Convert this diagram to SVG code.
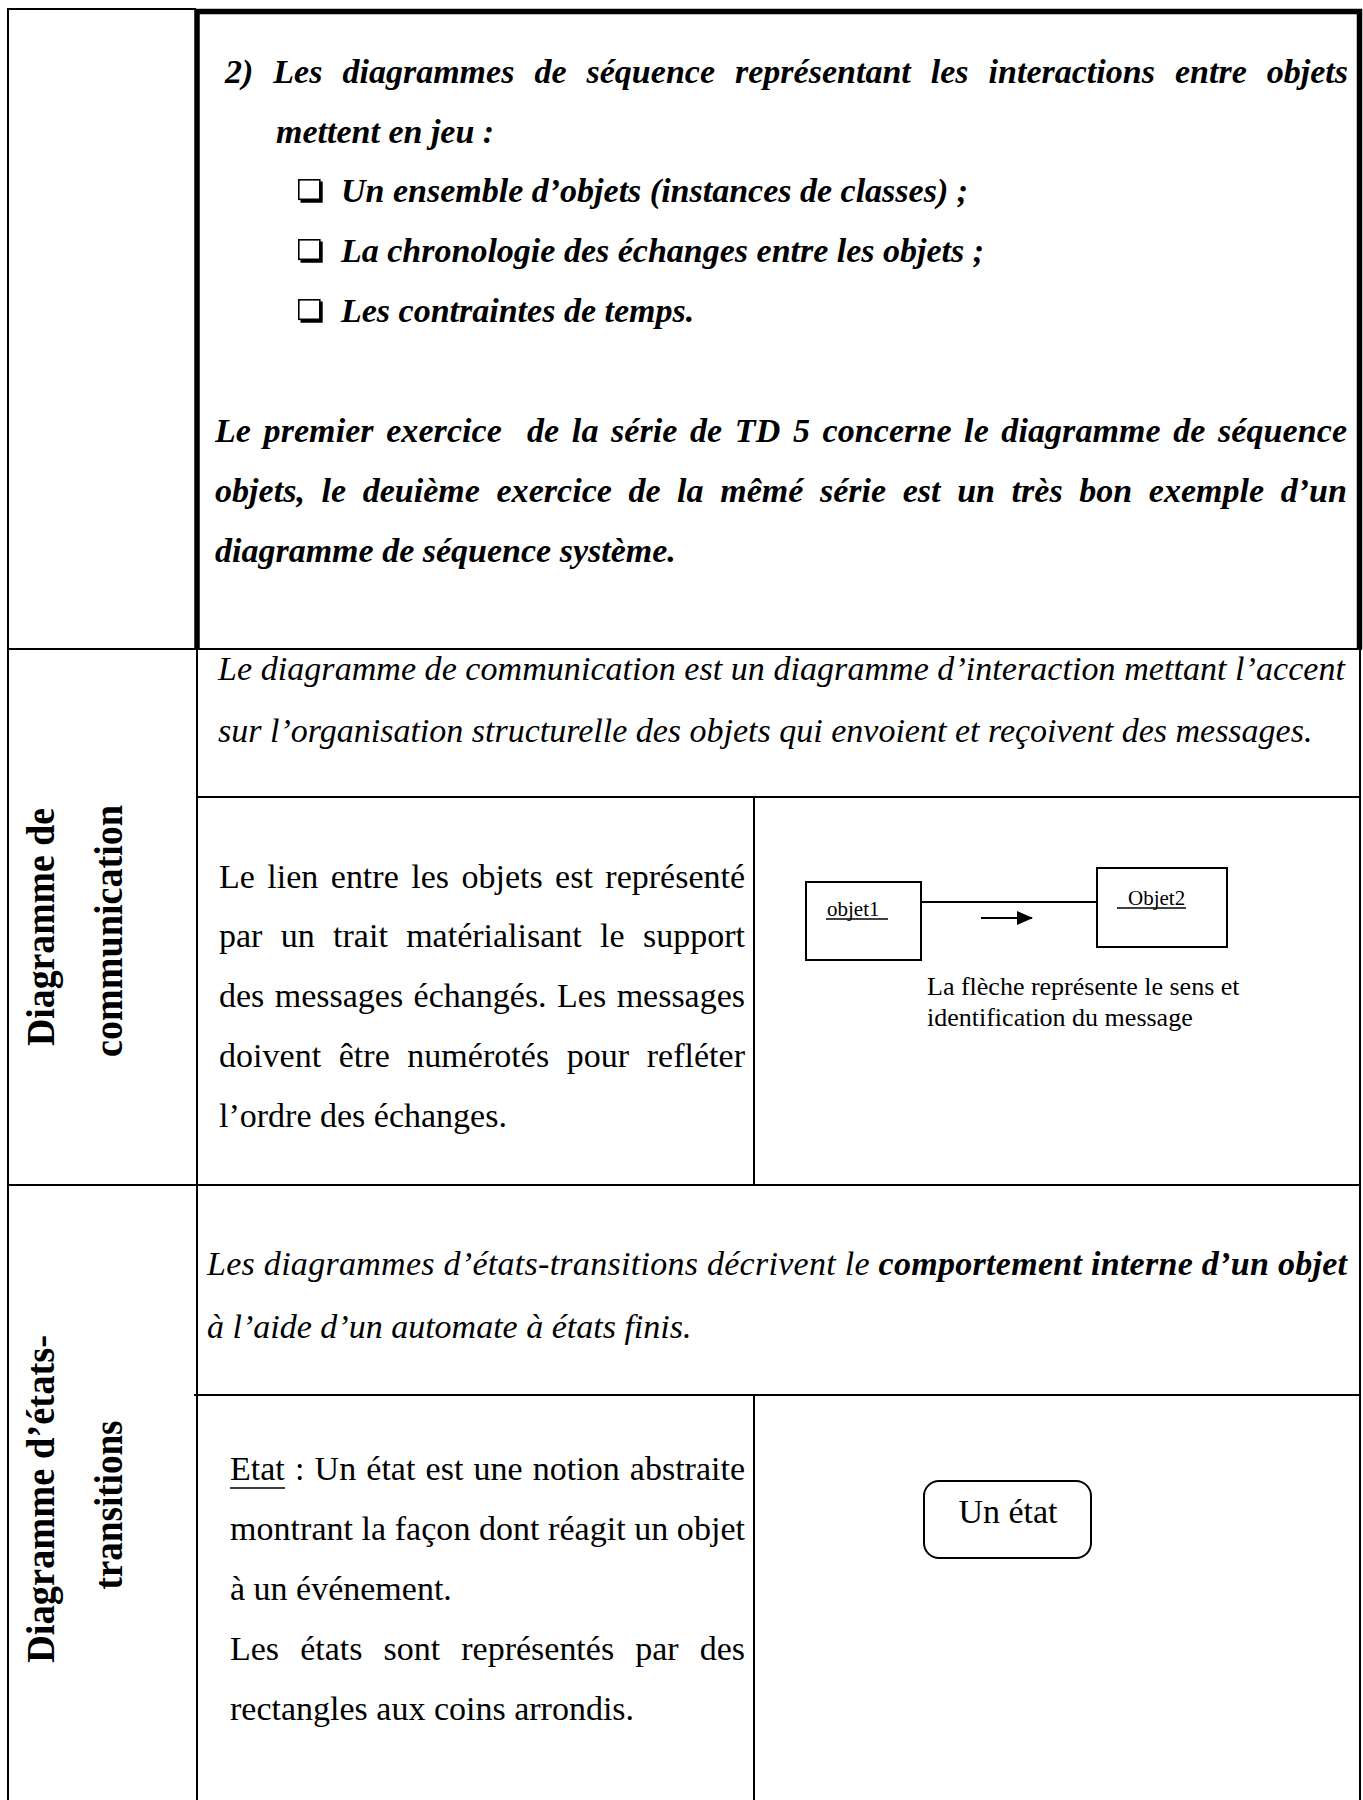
<svg xmlns="http://www.w3.org/2000/svg" width="1363" height="1800" viewBox="0 0 1363 1800">
  <style>
    .grid { stroke: #000; stroke-width: 2; fill: none; }
    .thick { stroke: #000; stroke-width: 5.5; fill: none; }
    .bi { font-family: "Liberation Serif", "Times New Roman", serif; font-size: 34px; font-weight: bold; font-style: italic; fill: #000; }
    .it { font-family: "Liberation Serif", "Times New Roman", serif; font-size: 34px; font-style: italic; fill: #000; }
    .rg { font-family: "Liberation Serif", "Times New Roman", serif; font-size: 34px; fill: #000; }
    .hd { font-family: "Liberation Serif", "Times New Roman", serif; font-size: 40px; font-weight: bold; fill: #000; text-anchor: middle; }
    .sm { font-family: "Liberation Serif", "Times New Roman", serif; font-size: 26px; fill: #000; }
    .lbl { font-family: "Liberation Serif", "Times New Roman", serif; font-size: 21px; fill: #000; }
    .box { fill: #fff; stroke: #000; stroke-width: 2; }
    .ul { stroke: #000; stroke-width: 1.3; }
    .link { stroke: #000; stroke-width: 2; fill: none; }
  </style>
  <defs>
    <!-- hollow square bullet with a drop shadow -->
    <symbol id="chk" viewBox="0 0 26 24" width="26" height="24" overflow="visible">
      <rect x="0.8" y="0.8" width="21" height="19.5" fill="#fff" stroke="#000" stroke-width="1.6"/>
      <path d="M23.2 2.5 V22.2 H2.5" fill="none" stroke="#000" stroke-width="3"/>
    </symbol>
    <marker id="head" viewBox="0 0 16 14" refX="15" refY="7" markerWidth="16" markerHeight="14" markerUnits="userSpaceOnUse" orient="auto">
      <path d="M0 0 L16 7 L0 14 Z" fill="#000"/>
    </marker>
  </defs>

  <rect width="1363" height="1800" fill="#fff"/>

  <!-- table rules -->
  <g id="table-grid">
    <!-- outer left border and header column -->
    <line class="grid" x1="8" y1="8" x2="8" y2="1800"/>
    <line class="grid" x1="8" y1="9" x2="196" y2="9"/>
    <line class="grid" x1="197" y1="649" x2="197" y2="1800"/>
    <line class="grid" x1="1360" y1="649" x2="1360" y2="1800"/>
    <!-- row separators -->
    <line class="grid" x1="8" y1="649" x2="1362" y2="649"/>
    <line class="grid" x1="197" y1="797" x2="1360" y2="797"/>
    <line class="grid" x1="8" y1="1185" x2="1360" y2="1185"/>
    <line class="grid" x1="194" y1="1395" x2="1360" y2="1395"/>
    <!-- split columns -->
    <line class="grid" x1="754" y1="797" x2="754" y2="1185"/>
    <line class="grid" x1="754" y1="1395" x2="754" y2="1800"/>
    <!-- heavy frame of the sequence cell -->
    <path class="thick" d="M197 649 V11.5 H1359.5 V649"/>
  </g>

  <!-- sequence diagram notes -->
  <g id="sequence-cell">
    <text class="bi" x="225" y="83" textLength="1123" word-spacing="11.5">2) Les diagrammes de séquence représentant les interactions entre objets</text>
    <text class="bi" x="276" y="143">mettent en jeu :</text>
    <use href="#chk" x="298" y="179"/>
    <text class="bi" x="341" y="202">Un ensemble d’objets (instances de classes) ;</text>
    <use href="#chk" x="298" y="239"/>
    <text class="bi" x="341" y="262">La chronologie des échanges entre les objets ;</text>
    <use href="#chk" x="298" y="299"/>
    <text class="bi" x="341" y="322">Les contraintes de temps.</text>
    <text class="bi" x="215" y="442" textLength="1132" word-spacing="4" xml:space="preserve">Le premier exercice  de la série de TD 5 concerne le diagramme de séquence</text>
    <text class="bi" x="215" y="502" textLength="1132" word-spacing="8">objets, le deuième exercice de la mêmé série est un très bon exemple d’un</text>
    <text class="bi" x="215" y="562">diagramme de séquence système.</text>
  </g>

  <!-- communication diagram row -->
  <g id="communication-header">
    <text class="hd" transform="translate(54,927) rotate(-90)" textLength="238" lengthAdjust="spacingAndGlyphs">Diagramme de</text>
    <text class="hd" transform="translate(122,931) rotate(-90)" textLength="252" lengthAdjust="spacingAndGlyphs">communication</text>
  </g>
  <g id="communication-definition">
    <text class="it" x="218" y="680" textLength="1127">Le diagramme de communication est un diagramme d’interaction mettant l’accent</text>
    <text class="it" x="218" y="742">sur l’organisation structurelle des objets qui envoient et reçoivent des messages.</text>
  </g>
  <g id="communication-text">
    <text class="rg" x="219" y="888" textLength="526" word-spacing="4">Le lien entre les objets est représenté</text>
    <text class="rg" x="219" y="947" textLength="526" word-spacing="9.8">par un trait matérialisant le support</text>
    <text class="rg" x="219" y="1007" textLength="526" word-spacing="2">des messages échangés. Les messages</text>
    <text class="rg" x="219" y="1067" textLength="526" word-spacing="9">doivent être numérotés pour refléter</text>
    <text class="rg" x="219" y="1127">l’ordre des échanges.</text>
  </g>
  <g id="objet1">
    <rect class="box" x="806" y="882" width="115" height="78"/>
    <text class="lbl" x="827" y="916">objet1</text>
    <line class="ul" x1="826" y1="919" x2="888" y2="919"/>
  </g>
  <g id="objet2">
    <rect class="box" x="1097" y="868" width="130" height="79"/>
    <text class="lbl" x="1128" y="905">Objet2</text>
    <line class="ul" x1="1117" y1="908" x2="1186" y2="908"/>
  </g>
  <g id="connectors">
    <line class="link" x1="921" y1="902" x2="1097" y2="902"/>
    <line class="link" x1="981" y1="918" x2="1032" y2="918" stroke-width="2.8" marker-end="url(#head)"/>
  </g>
  <g id="arrow-caption">
    <text class="sm" x="927" y="995">La flèche représente le sens et</text>
    <text class="sm" x="927" y="1026">identification du message</text>
  </g>

  <!-- state-transition diagram row -->
  <g id="states-header">
    <text class="hd" transform="translate(54,1499) rotate(-90)" textLength="328" lengthAdjust="spacingAndGlyphs">Diagramme d’états-</text>
    <text class="hd" transform="translate(122,1505) rotate(-90)" textLength="169" lengthAdjust="spacingAndGlyphs">transitions</text>
  </g>
  <g id="states-definition">
    <text class="it" x="207" y="1275" textLength="1140">Les diagrammes d’états-transitions décrivent le <tspan font-weight="bold">comportement interne d’un objet</tspan></text>
    <text class="it" x="207" y="1338">à l’aide d’un automate à états finis.</text>
  </g>
  <g id="states-text">
    <text class="rg" x="230" y="1480" textLength="515" word-spacing="1.7">Etat : Un état est une notion abstraite</text>
    <line class="ul" x1="230" y1="1488" x2="285" y2="1488"/>
    <text class="rg" x="230" y="1540" textLength="515">montrant la façon dont réagit un objet</text>
    <text class="rg" x="230" y="1600">à un événement.</text>
    <text class="rg" x="230" y="1660" textLength="515" word-spacing="12.6">Les états sont représentés par des</text>
    <text class="rg" x="230" y="1720">rectangles aux coins arrondis.</text>
  </g>
  <g id="state-example">
    <rect class="box" x="924" y="1481" width="167" height="77" rx="15" ry="15"/>
    <text class="rg" x="1008" y="1523" font-size="29" text-anchor="middle">Un état</text>
  </g>
</svg>
